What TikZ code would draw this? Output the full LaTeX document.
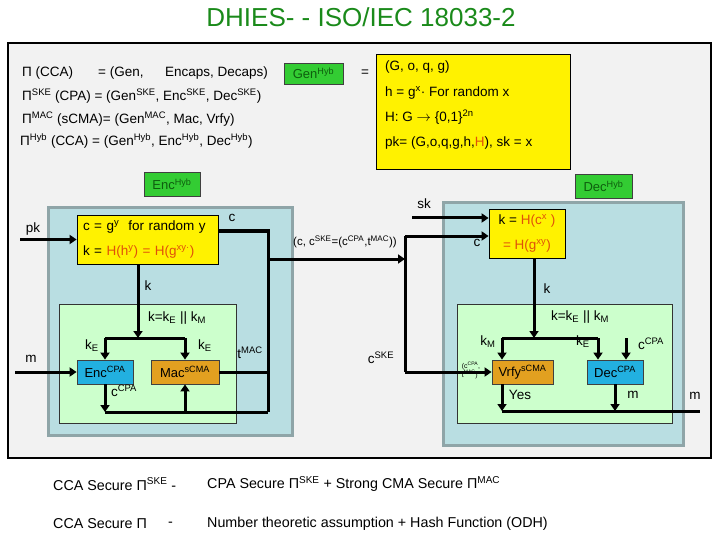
\documentclass[tikz,border=0pt]{standalone}
\usepackage{fontspec}
\setmainfont{Liberation Sans}
\usetikzlibrary{arrows.meta,calc}
\definecolor{bggray}{HTML}{F2F2F2}
\definecolor{tealfill}{HTML}{B9DEE2}
\definecolor{tealedge}{HTML}{8FA5A8}
\definecolor{ltgreen}{HTML}{CCFFCC}
\definecolor{brgreen}{HTML}{33CC33}
\definecolor{dkgreen}{HTML}{0E5E0E}
\definecolor{titlegreen}{HTML}{1A8A1A}
\definecolor{cpablue}{HTML}{22B0E0}
\definecolor{macorange}{HTML}{E2A020}
\definecolor{hred}{HTML}{E0500A}
\newcommand{\myup}[1]{\textsuperscript{#1}}
\newcommand{\mydn}[1]{\textsubscript{#1}}
\newcommand{\myred}[1]{\textcolor{hred}{#1}}
\begin{document}
\begin{tikzpicture}[x=1pt,y=-1pt,
  lbl/.style={inner sep=0pt,font=\fontsize{13.5}{15}\selectfont},
  bot/.style={inner sep=0pt,font=\fontsize{14.3}{16}\selectfont},
  sml/.style={inner sep=0pt,font=\fontsize{7}{7.5}\selectfont,align=left},
  yelbox/.style={draw=black,line width=0.8pt,fill=yellow,inner sep=0pt},
  grnlab/.style={draw=black!75,line width=0.8pt,fill=brgreen,text=dkgreen,inner sep=0pt,font=\fontsize{13}{15}\selectfont},
  cpabox/.style={draw=black!75,line width=0.8pt,fill=cpablue,inner sep=0pt,minimum height=24pt,font=\fontsize{13}{15}\selectfont},
  macbox/.style={cpabox,fill=macorange},
  flow/.style={line width=3pt},
  arr/.style={flow,-{Triangle[length=7pt,width=9pt]}},
]
\useasboundingbox (0,0) rectangle (720,540);
\node[font=\fontsize{26}{28}\selectfont,text=titlegreen,inner sep=0pt] (title) at (361,17) {DHIES- - ISO/IEC 18033-2};
\draw[line width=1.2pt,fill=bggray] (8,43) rectangle (711,458);
% definitions
\node[lbl,anchor=west] (l1a) at (22,73) {Π (CCA)};
\node[lbl,anchor=west] (l1b) at (98,73) {= (Gen,};
\node[lbl,anchor=west] (l1c) at (165,73) {Encaps, Decaps)};
\node[lbl,anchor=west] (l2) at (22,96) {Π\myup{SKE} (CPA) = (Gen\myup{SKE}, Enc\myup{SKE}, Dec\myup{SKE})};
\node[lbl,anchor=west] (l3) at (22,119) {Π\myup{MAC} (sCMA)= (Gen\myup{MAC}, Mac, Vrfy)};
\node[lbl,anchor=west] (l4) at (20,141) {Π\myup{Hyb} (CCA) = (Gen\myup{Hyb}, Enc\myup{Hyb}, Dec\myup{Hyb})};
\node[grnlab,minimum width=59pt,minimum height=21pt] (genhyb) at (313.5,73.5) {Gen\myup{Hyb}};
\node[lbl] (eq) at (365,73) {=};
\node[yelbox,minimum width=194pt,minimum height=115pt] (params) at (473,112) {};
\node[lbl,anchor=north west,align=left,font=\fontsize{13.5}{25.3}\selectfont] (ptext) at (385,61) {(G, o, q, g)\\ h = g\myup{x}· For random x\\ H: G $\rightarrow$ \{0,1\}\myup{2n}\\ pk= (G,o,q,g,h,\myred{H}), sk = x};
% regions
\draw[line width=3pt,draw=tealedge,fill=tealfill] (48,208) rectangle (292,435);
\draw[line width=3pt,draw=tealedge,fill=tealfill] (443,203) rectangle (683,445);
\draw[line width=0.8pt,draw=black!80,fill=ltgreen] (59,304) rectangle (236,423);
\draw[line width=0.8pt,draw=black!80,fill=ltgreen] (457,304) rectangle (672,423);
\node[grnlab,minimum width=56pt,minimum height=24pt] (enchyb) at (172,184) {Enc\myup{Hyb}};
\node[grnlab,minimum width=57pt,minimum height=24pt] (dechyb) at (603.5,186) {Dec\myup{Hyb}};
% boxes
\node[yelbox,minimum width=141pt,minimum height=49pt,text width=129pt,align=left,font=\fontsize{13.5}{25}\selectfont] (encyel) at (147.5,239.5) {c = g\myup{y}\ \ for random y\\ k = \myred{H(h\myup{y}) = H(g\myup{xy·})}};
\node[yelbox,minimum width=76pt,minimum height=49pt,align=center,font=\fontsize{13.5}{25}\selectfont] (decyel) at (527,233.5) {k = \myred{H(c\myup{x} )}\\ \myred{= H(g\myup{xy})}};
\node[cpabox,minimum width=56pt] (enccpa) at (105,372) {Enc\myup{CPA}};
\node[macbox,minimum width=68pt] (mac) at (185,372) {Mac\myup{sCMA}};
\node[macbox,minimum width=61pt] (vrfy) at (522.5,372) {Vrfy\myup{sCMA}};
\node[cpabox,minimum width=56pt] (deccpa) at (615,372) {Dec\myup{CPA}};
% junctions
\coordinate (pkin) at (20,239.5);
\coordinate (min) at (15,372);
\coordinate (cj) at (268,231);
\coordinate (cbot) at (268,412);
\coordinate (tx) at (268,259);
\coordinate (rx) at (405,259);
\coordinate (rtop) at (405,236);
\coordinate (rbot) at (405,372);
\coordinate (skin) at (412,218);
\coordinate (ekj) at (138,338);
\coordinate (ekl) at (105,338);
\coordinate (ekr) at (185,338);
\coordinate (dkj) at (534,338);
\coordinate (dkl) at (502,338);
\coordinate (dkr) at (598,338);
\coordinate (ccpain) at (626,338);
\coordinate (mout) at (700,411);
% connectors
\draw[arr] (pkin) -- (encyel.west);
\draw[arr] (min) -- (enccpa.west);
\draw[flow] (encyel.east |- cj) -- (cj) -- (cbot);
\draw[flow] (mac.east) -- (mac.east -| cj);
\draw[arr] (enccpa.south) -- (enccpa.south |- cbot);
\draw[flow] (enccpa.south |- cbot) -- (cbot);
\draw[arr] (mac.south |- cbot) -- (mac.south);
\draw[arr] (encyel.south -| ekj) -- (ekj);
\draw[flow] (ekl) -- (ekr);
\draw[arr] (ekl) -- (enccpa.north);
\draw[arr] (ekr) -- (mac.north);
\draw[arr] (tx) -- (rx);
\draw[flow] (rtop) -- (rbot);
\draw[arr] (rtop) -- (decyel.west |- rtop);
\draw[arr] (rbot) -- (vrfy.west);
\draw[arr] (skin) -- (decyel.west |- skin);
\draw[arr] (decyel.south -| dkj) -- (dkj);
\draw[flow] (dkl) -- (dkr);
\draw[arr] (dkl) -- (vrfy.north -| dkl);
\draw[arr] (dkr) -- (deccpa.north -| dkr);
\draw[arr] (ccpain) -- (deccpa.north -| ccpain);
\draw[arr] (vrfy.south -| dkl) -- (dkl |- mout);
\draw[arr] (deccpa.south) -- (deccpa.south |- mout);
\draw[flow] (dkl |- mout) -- (mout);
% labels
\node[lbl] (pkl) at (33,229) {pk};
\node[lbl] (ml) at (31,359) {m};
\node[lbl] (cl) at (232,218) {c};
\node[lbl] (kl) at (148,286) {k};
\node[lbl] (ksplit) at (177,318) {k=k\mydn{E} || k\mydn{M}};
\node[lbl] (kel) at (92,346) {k\mydn{E}};
\node[lbl] (ker) at (205,346) {k\mydn{E}};
\node[lbl] (tmac) at (250,353) {t\myup{MAC}};
\node[lbl] (ccpa1) at (124,391) {c\myup{CPA}};
\node[lbl,font=\fontsize{11.5}{13}\selectfont] (cske) at (345,242) {(c, c\myup{SKE}=(c\myup{CPA},t\myup{MAC}))};
\node[lbl] (skl) at (424,204) {sk};
\node[lbl] (cl2) at (477,243) {c};
\node[lbl] (csk2) at (381,358) {c\myup{SKE}};
\node[lbl] (kl2) at (547,289) {k};
\node[lbl] (ksplit2) at (580,317) {k=k\mydn{E} || k\mydn{M}};
\node[lbl] (kml) at (488,342) {k\mydn{M}};
\node[lbl] (kel2) at (583,342) {k\mydn{E}};
\node[lbl] (ccpa2) at (651,344) {c\myup{CPA}};
\node[sml] (pair) at (471,370) {(c\myup{CPA},\\t\myup{MAC})};
\node[lbl] (yes) at (520,395) {Yes};
\node[lbl] (mdec) at (633,395) {m};
\node[lbl] (mfin) at (695,396) {m};
% bottom notes
\node[bot,anchor=west] (b1a) at (53,484) {CCA Secure Π\myup{SKE} -};
\node[bot,anchor=west] (b1b) at (207,484) {CPA Secure Π\myup{SKE} + Strong CMA Secure Π\myup{MAC}};
\node[bot,anchor=west] (b2a) at (53,524) {CCA Secure Π};
\node[bot,anchor=west] (b2b) at (168,524) {-};
\node[bot,anchor=west] (b2c) at (207,524) {Number theoretic assumption + Hash Function (ODH)};
\end{tikzpicture}
\end{document}
